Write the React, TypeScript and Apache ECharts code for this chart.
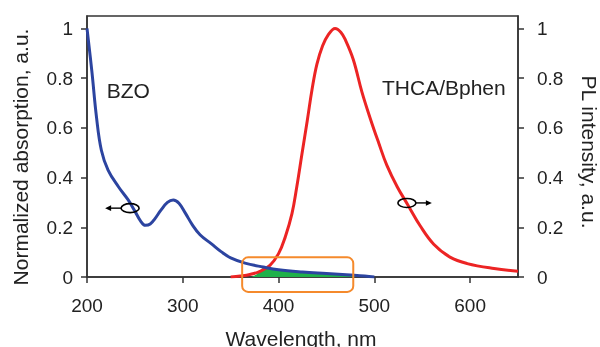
import React, { useEffect, useRef } from "react";
import * as echarts from "echarts";

// ---- data ----
const xTicks = [200, 300, 400, 500, 600];
const yTicks = [0, 0.2, 0.4, 0.6, 0.8, 1];

// BZO normalized absorption [wavelength nm, value]
const bzoAbsorption: [number, number][] = [
  [200, 1.0], [205, 0.83], [210, 0.64], [215, 0.51], [222, 0.43], [233, 0.362],
  [243, 0.31], [250, 0.265], [256, 0.225], [261, 0.208], [266, 0.213], [271, 0.235],
  [277, 0.268], [284, 0.3], [290, 0.31], [296, 0.297], [303, 0.255], [310, 0.21],
  [318, 0.17], [330, 0.133], [340, 0.102], [350, 0.077], [365, 0.056], [384, 0.04],
  [400, 0.029], [425, 0.02], [450, 0.014], [475, 0.008], [490, 0.004], [500, 0.0],
];

// THCA/Bphen PL intensity [wavelength nm, value]
const plIntensity: [number, number][] = [
  [350, 0.0], [360, 0.004], [370, 0.01], [380, 0.022], [391, 0.047], [400, 0.094],
  [407, 0.161], [414, 0.255], [419, 0.362], [424.5, 0.497], [430, 0.63], [435, 0.755],
  [440, 0.855], [446, 0.93], [452, 0.975], [459, 1.0], [465, 0.985], [470, 0.952],
  [478, 0.875], [487, 0.745], [496, 0.635], [504.5, 0.54], [513, 0.45], [524, 0.362],
  [535, 0.29], [548, 0.205], [562, 0.132], [579, 0.08], [597, 0.054], [625, 0.034],
  [650, 0.023],
];

// spectral overlap (green area)
const overlapArea: [number, number][] = [
  [372, 0.0], [378, 0.013], [384, 0.036], [392, 0.034], [400, 0.029], [425, 0.02],
  [450, 0.014], [475, 0.008], [485, 0.004],
];

// annotations in data coordinates
const absMarker: [number, number] = [245, 0.277];
const plMarker: [number, number] = [534, 0.298];
const highlightBox = { x0: 362, x1: 478, y0: 0.079, y1: -0.06 };
const bzoLabelPos: [number, number] = [220.5, 0.752];
const plLabelPos: [number, number] = [508, 0.763];

const FONT = "Liberation Sans, Arial, sans-serif";
const TXT = "#222";
const AX = "#333";

export default function App() {
  const ref = useRef<HTMLDivElement>(null);
  useEffect(() => {
    const chart = echarts.init(ref.current!, null, { renderer: "svg" });
    chart.setOption({
      animation: false,
      grid: {
        left: 87, right: 82, top: 16, bottom: 70,
        show: true, borderColor: AX, borderWidth: 1.5, backgroundColor: "transparent",
      },
      xAxis: {
        type: "value", min: 200, max: 650, interval: 100,
        axisLine: { show: true, lineStyle: { color: AX, width: 1.5 } },
        axisTick: { show: true, length: 6, customValues: xTicks, lineStyle: { color: AX, width: 1.5 } },
        axisLabel: { customValues: xTicks, margin: 19, fontSize: 19, color: TXT, fontFamily: FONT },
        splitLine: { show: false },
      },
      yAxis: [
        {
          type: "value", min: 0, max: 1.05, position: "left",
          axisLine: { show: true, lineStyle: { color: AX, width: 1.5 } },
          axisTick: { show: true, length: 6, customValues: yTicks, lineStyle: { color: AX, width: 1.5 } },
          axisLabel: { customValues: yTicks, margin: 14, fontSize: 19, color: TXT, fontFamily: FONT },
          splitLine: { show: false },
        },
        {
          type: "value", min: 0, max: 1.05, position: "right",
          axisLine: { show: true, lineStyle: { color: AX, width: 1.5 } },
          axisTick: { show: true, length: 6, customValues: yTicks, lineStyle: { color: AX, width: 1.5 } },
          axisLabel: { customValues: yTicks, margin: 19, fontSize: 19, color: TXT, fontFamily: FONT },
          splitLine: { show: false },
        },
      ],
      series: [
        {
          type: "line", data: overlapArea, smooth: 0.3, symbol: "none",
          lineStyle: { width: 0 }, areaStyle: { color: "#1fb14a", opacity: 1 }, z: 1,
        },
        {
          type: "line", data: plIntensity, smooth: 0.4, symbol: "none",
          lineStyle: { color: "#ec2424", width: 3 }, z: 2,
        },
        {
          type: "line", data: bzoAbsorption, smooth: 0.4, symbol: "none",
          lineStyle: { color: "#2c44a0", width: 3 }, z: 3,
        },
      ],
    });

    const px = (p: [number, number]) => chart.convertToPixel({ gridIndex: 0 }, p) as number[];
    const a = px(absMarker);
    const b = px(plMarker);
    const h0 = px([highlightBox.x0, highlightBox.y0]);
    const h1 = px([highlightBox.x1, highlightBox.y1]);
    const t1 = px(bzoLabelPos);
    const t2 = px(plLabelPos);

    const marker = (c: number[], dir: number) => [
      { type: "ellipse", shape: { cx: c[0], cy: c[1], rx: 9, ry: 4.5 }, style: { fill: "none", stroke: "#000", lineWidth: 1.6 }, z: 10 },
      { type: "line", shape: { x1: c[0] + dir * 9, y1: c[1], x2: c[0] + dir * 21, y2: c[1] }, style: { stroke: "#000", lineWidth: 1.4 }, z: 10 },
      {
        type: "polygon",
        shape: { points: [[c[0] + dir * 25, c[1]], [c[0] + dir * 19, c[1] - 2.8], [c[0] + dir * 19, c[1] + 2.8]] },
        style: { fill: "#000" }, z: 10,
      },
    ];

    chart.setOption({
      graphic: [
        {
          type: "rect",
          shape: { x: h0[0], y: h0[1], width: h1[0] - h0[0], height: h1[1] - h0[1], r: 6 },
          style: { fill: "none", stroke: "#f58a2c", lineWidth: 2 }, z: 10,
        },
        ...marker(a, -1),
        ...marker(b, 1),
        { type: "text", x: t1[0], y: t1[1], style: { text: "BZO", fontSize: 21, fill: TXT, fontFamily: FONT, textAlign: "left", textVerticalAlign: "middle" }, z: 10 },
        { type: "text", x: t2[0], y: t2[1], style: { text: "THCA/Bphen", fontSize: 21, fill: TXT, fontFamily: FONT, textAlign: "left", textVerticalAlign: "middle" }, z: 10 },
        { type: "text", x: 20, y: 157, rotation: Math.PI / 2, style: { text: "Normalized absorption, a.u.", fontSize: 21, fill: TXT, fontFamily: FONT, textAlign: "center", textVerticalAlign: "middle" }, z: 10 },
        { type: "text", x: 589, y: 152, rotation: -Math.PI / 2, style: { text: "PL intensity, a.u.", fontSize: 21, fill: TXT, fontFamily: FONT, textAlign: "center", textVerticalAlign: "middle" }, z: 10 },
        { type: "text", x: 301, y: 338, style: { text: "Wavelength, nm", fontSize: 21, fill: TXT, fontFamily: FONT, textAlign: "center", textVerticalAlign: "middle" }, z: 10 },
      ],
    });

    return () => chart.dispose();
  }, []);
  return <div ref={ref} style={{ position: "fixed", left: 0, top: 0, width: 600, height: 347 }} />;
}
